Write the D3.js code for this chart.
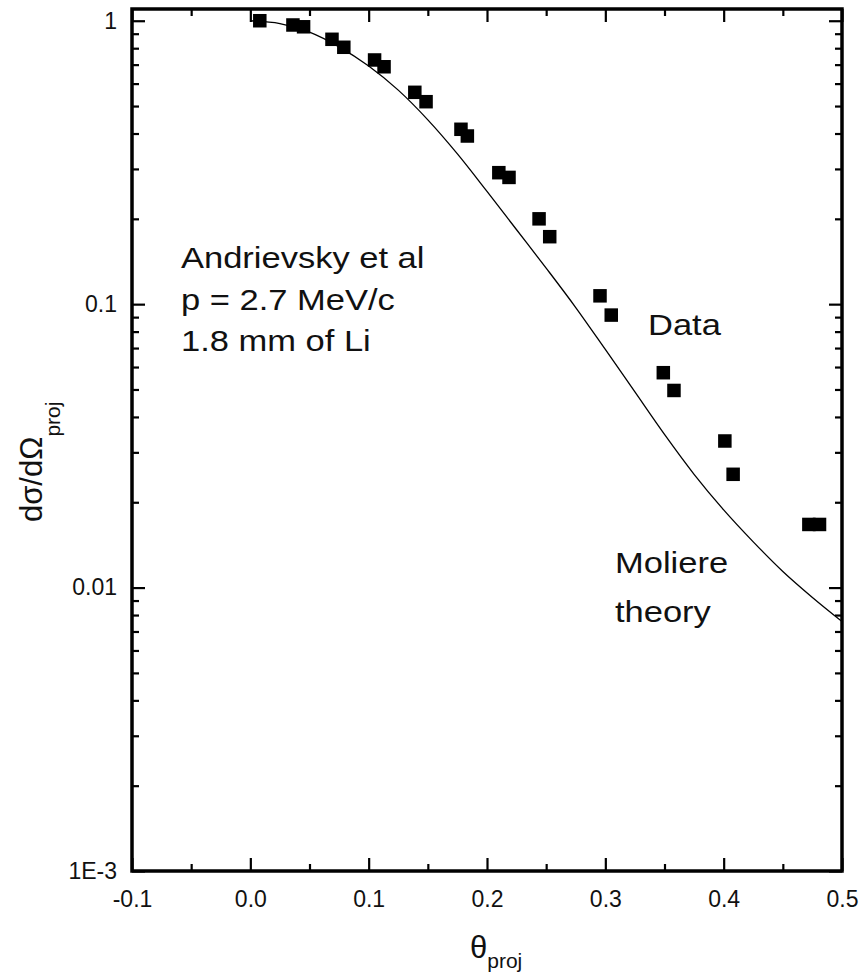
<!DOCTYPE html>
<html>
<head>
<meta charset="utf-8">
<script src="https://cdn.jsdelivr.net/npm/d3@7"></script>
<style>
  html, body { margin: 0; padding: 0; background: #fff; }
  svg { display: block; }
  text { font-family: "Liberation Sans", Arial, Helvetica, sans-serif; fill: #111; }
</style>
</head>
<body>
<script>
// ---- data ----
const dataTheta = [0.008, 0.036, 0.045, 0.069, 0.079, 0.105, 0.113, 0.139, 0.1485, 0.178, 0.1834, 0.210, 0.2186, 0.244, 0.253, 0.2955, 0.305, 0.349, 0.358, 0.401, 0.408, 0.472, 0.481];
const dataSigma = [1.0, 0.966, 0.952, 0.86, 0.806, 0.727, 0.688, 0.559, 0.518, 0.414, 0.392, 0.291, 0.280, 0.200, 0.173, 0.107, 0.0915, 0.0573, 0.0496, 0.0329, 0.0251, 0.0167, 0.0167];

const theoryTheta = [0, 0.025, 0.05, 0.075, 0.1, 0.125, 0.15, 0.175, 0.2, 0.225, 0.25, 0.275, 0.3, 0.325, 0.35, 0.375, 0.4, 0.425, 0.45, 0.475, 0.5];
const theorySigma = [1.0, 0.977, 0.912, 0.809, 0.692, 0.569, 0.447, 0.339, 0.250, 0.183, 0.134, 0.0973, 0.0692, 0.0490, 0.0347, 0.0251, 0.0188, 0.0145, 0.0114, 0.00923, 0.00759];

const xTickValues = [-0.1, 0.0, 0.1, 0.2, 0.3, 0.4, 0.5];
const xTickLabels = ["-0.1", "0.0", "0.1", "0.2", "0.3", "0.4", "0.5"];
const xMinorValues = [-0.05, 0.05, 0.15, 0.25, 0.35, 0.45];
const yTickValues = [0.001, 0.01, 0.1, 1];
const yTickLabels = ["1E-3", "0.01", "0.1", "1"];
const yMinorValues = [2,3,4,5,6,7,8,9].flatMap(m => [0.001, 0.01, 0.1].map(d => +(m * d).toPrecision(3)));

const annotationLeft = ["Andrievsky et al", "p = 2.7 MeV/c", "1.8 mm of Li"];

// ---- layout ----
const W = 862, H = 977;
const L = 132, R = 842, T = 9, B = 871;

const svg = d3.select("body").append("svg").attr("width", W).attr("height", H);
svg.append("rect").attr("width", W).attr("height", H).attr("fill", "#fff");

const x = d3.scaleLinear().domain([-0.1, 0.5]).range([L, R]);
const y = d3.scaleLog().domain([0.001, 1.1]).range([B, T]);

const fmtX = v => xTickLabels[xTickValues.findIndex(t => Math.abs(t - v) < 1e-9)];
const fmtY = v => yTickLabels[yTickValues.findIndex(t => Math.abs(t - v) < 1e-12)];

function styleAxis(g) {
  g.select(".domain").remove();
  g.selectAll(".tick line").attr("stroke", "#000").attr("stroke-width", 2.2);
  g.selectAll(".tick text").attr("font-size", 23).attr("fill", "#111")
    .style("font-family", '"Liberation Sans", Arial, sans-serif');
}

// bottom axis
svg.append("g").attr("transform", `translate(0,${B})`)
  .call(d3.axisBottom(x).tickValues(xTickValues).tickFormat(fmtX).tickSizeInner(-13).tickSizeOuter(0).tickPadding(20))
  .call(styleAxis);
svg.append("g").attr("transform", `translate(0,${B})`)
  .call(d3.axisBottom(x).tickValues(xMinorValues).tickFormat("").tickSizeInner(-7).tickSizeOuter(0))
  .call(styleAxis);
// top axis
svg.append("g").attr("transform", `translate(0,${T})`)
  .call(d3.axisTop(x).tickValues(xTickValues).tickFormat("").tickSizeInner(-13).tickSizeOuter(0))
  .call(styleAxis);
svg.append("g").attr("transform", `translate(0,${T})`)
  .call(d3.axisTop(x).tickValues(xMinorValues).tickFormat("").tickSizeInner(-7).tickSizeOuter(0))
  .call(styleAxis);
// left axis
svg.append("g").attr("transform", `translate(${L},0)`)
  .call(d3.axisLeft(y).tickValues(yTickValues).tickFormat(fmtY).tickSizeInner(-13).tickSizeOuter(0).tickPadding(15))
  .call(styleAxis);
svg.append("g").attr("transform", `translate(${L},0)`)
  .call(d3.axisLeft(y).tickValues(yMinorValues).tickFormat("").tickSizeInner(-7).tickSizeOuter(0))
  .call(styleAxis);
// right axis
svg.append("g").attr("transform", `translate(${R},0)`)
  .call(d3.axisRight(y).tickValues(yTickValues).tickFormat("").tickSizeInner(-13).tickSizeOuter(0))
  .call(styleAxis);
svg.append("g").attr("transform", `translate(${R},0)`)
  .call(d3.axisRight(y).tickValues(yMinorValues).tickFormat("").tickSizeInner(-7).tickSizeOuter(0))
  .call(styleAxis);

// frame
svg.append("rect").attr("x", L).attr("y", T).attr("width", R - L).attr("height", B - T)
  .attr("fill", "none").attr("stroke", "#000").attr("stroke-width", 3.5);

// theory curve
const theory = theoryTheta.map((t, i) => [t, theorySigma[i]]);
svg.append("path").datum(theory)
  .attr("fill", "none").attr("stroke", "#000").attr("stroke-width", 1.3)
  .attr("d", d3.line().x(d => x(d[0])).y(d => y(d[1])).curve(d3.curveMonotoneX));

// data squares
const S = 13.5;
svg.append("g").selectAll("rect").data(dataTheta.map((t, i) => [t, dataSigma[i]]))
  .join("rect")
  .attr("x", d => x(d[0]) - S / 2).attr("y", d => y(d[1]) - S / 2)
  .attr("width", S).attr("height", S).attr("fill", "#000");

// annotations
const annY = [268, 310, 351];
annotationLeft.forEach((s, i) => {
  svg.append("text").attr("transform", `translate(181,${annY[i]}) scale(1.15,1)`)
    .attr("font-size", 30).text(s);
});
svg.append("text").attr("transform", `translate(648,335) scale(1.15,1)`).attr("font-size", 30).text("Data");
svg.append("text").attr("transform", `translate(615,573) scale(1.15,1)`).attr("font-size", 30).text("Moliere");
svg.append("text").attr("transform", `translate(615,622) scale(1.15,1)`).attr("font-size", 30).text("theory");

// x label
const xl = svg.append("text").attr("x", 470).attr("y", 958).attr("font-size", 31);
xl.append("tspan").text("θ");
xl.append("tspan").attr("font-size", 21).attr("dy", 10).text("proj");

// y label
const yl = svg.append("text").attr("transform", "translate(42,522) rotate(-90)").attr("font-size", 31);
yl.append("tspan").text("dσ/dΩ");
yl.append("tspan").attr("font-size", 21).attr("dy", 18).text("proj");
</script>
</body>
</html>
